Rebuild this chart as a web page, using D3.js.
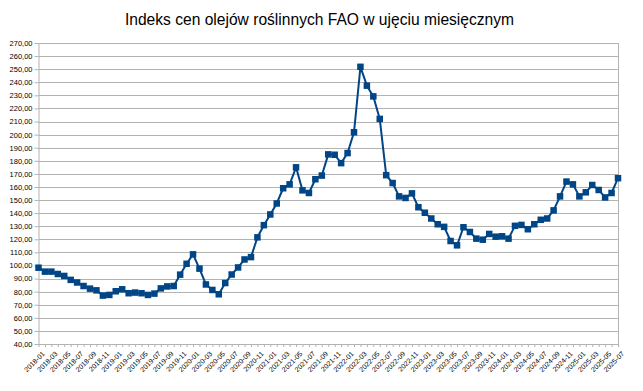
<!DOCTYPE html>
<html>
<head>
<meta charset="utf-8">
<script src="https://cdn.jsdelivr.net/npm/d3@7"></script>
<style>
  body { margin: 0; background: #fff; }
  text { font-family: "Liberation Sans", Arial, sans-serif; }
</style>
</head>
<body>
<div id="chart-container"></div>
<script>
// chart title
const title = "Indeks cen olejów roślinnych FAO w ujęciu miesięcznym";

// monthly categories 2018-01 .. 2025-07
const years = ["2018", "2019", "2020", "2021", "2022", "2023", "2024", "2025"];

// index values, one row per year
const v2018 = [98.3, 95.3, 95.3, 93.5, 92.0, 89.0, 87.0, 84.3, 82.3, 81.0, 77.0, 77.5];
const v2019 = [80.3, 81.8, 78.8, 79.3, 78.8, 77.5, 78.5, 82.5, 84.0, 84.3, 93.0, 101.3];
const v2020 = [108.5, 97.6, 85.5, 81.3, 78.0, 86.6, 93.1, 98.5, 104.6, 106.4, 121.5, 130.8];
const v2021 = [139.0, 147.4, 159.0, 162.0, 175.0, 157.4, 155.4, 165.9, 168.7, 184.9, 184.6, 178.2];
const v2022 = [185.9, 201.8, 251.8, 237.4, 229.2, 212.0, 169.0, 163.0, 152.8, 151.6, 155.1, 144.5];
const v2023 = [140.3, 135.9, 131.5, 129.5, 118.7, 115.4, 129.2, 125.6, 120.5, 119.7, 124.1, 122.0];
const v2024 = [122.3, 120.5, 130.3, 131.0, 127.7, 131.5, 134.9, 135.9, 142.1, 152.8, 164.1, 162.0];
const v2025 = [152.8, 155.9, 161.5, 157.7, 152.0, 155.4, 166.7];

// y axis ticks
const yTicks = d3.range(40, 271, 10);

const values = [].concat(v2018, v2019, v2020, v2021, v2022, v2023, v2024, v2025);
const months = [];
years.forEach(y => {
    for (let m = 1; m <= 12; m++) months.push(`${y}-${String(m).padStart(2, "0")}`);
});
const data = values.map((v, i) => ({ month: months[i], value: v }));

// dimensions
const W = 643, H = 391;
const margin = { top: 43, right: 25, bottom: 47, left: 38.5 };
const width = W - margin.left - margin.right;
const height = H - margin.top - margin.bottom;

const svg = d3.select("#chart-container")
    .append("svg")
    .attr("width", W)
    .attr("height", H);

svg.append("text")
    .attr("x", 319.5)
    .attr("y", 25)
    .attr("text-anchor", "middle")
    .style("font-size", "15.6px")
    .style("fill", "#000")
    .text(title);

const g = svg.append("g")
    .attr("transform", `translate(${margin.left},${margin.top})`);

const x = d3.scalePoint()
    .domain(data.map(d => d.month))
    .range([0, width]);

const y = d3.scaleLinear()
    .domain([40, 270])
    .range([height, 0]);

// horizontal gridlines
g.selectAll(".yGrid")
    .data(yTicks)
    .join("line")
    .attr("x1", 0)
    .attr("x2", width)
    .attr("y1", d => Math.round(y(d)) + 0.5)
    .attr("y2", d => Math.round(y(d)) + 0.5)
    .attr("stroke", "#b3b3b3")
    .attr("stroke-width", 1);

// right border
g.append("line")
    .attr("x1", width + 0.5).attr("x2", width + 0.5)
    .attr("y1", 0).attr("y2", height)
    .attr("stroke", "#b3b3b3");

// y axis
g.append("g")
    .call(d3.axisLeft(y)
        .tickValues(yTicks)
        .tickSize(4)
        .tickPadding(2)
        .tickFormat(d => d3.format(".2f")(d).replace(".", ",")))
    .call(ax => ax.selectAll("line, path").attr("stroke", "#b3b3b3"))
    .call(ax => ax.select(".domain").attr("d", `M0.5,0V${height}`))
    .selectAll("text")
    .style("font-size", "7.5px")
    .style("font-family", "Liberation Sans, Arial, sans-serif")
    .attr("fill", "#000");

// x axis, a tick every month, label every second month
g.append("g")
    .attr("transform", `translate(0,${height})`)
    .call(d3.axisBottom(x)
        .tickSize(3)
        .tickFormat((d, i) => i % 2 === 0 ? d : ""))
    .call(ax => ax.selectAll("line, path").attr("stroke", "#b3b3b3"))
    .call(ax => ax.select(".domain").attr("d", `M0,0.5H${width}`))
    .selectAll("text")
    .style("font-size", "7px")
    .style("font-family", "Liberation Sans, Arial, sans-serif")
    .attr("fill", "#000")
    .attr("text-anchor", "end")
    .attr("dx", "0")
    .attr("dy", "0")
    .attr("transform", "translate(2,6) rotate(-45)");

// the line
const line = d3.line()
    .x(d => x(d.month))
    .y(d => y(d.value));

g.append("path")
    .datum(data)
    .attr("fill", "none")
    .attr("stroke", "#004586")
    .attr("stroke-width", 2)
    .attr("stroke-linejoin", "round")
    .attr("d", line);

// square markers
const ms = 6.5;
g.selectAll(".pt")
    .data(data)
    .join("rect")
    .attr("x", d => x(d.month) - ms / 2)
    .attr("y", d => y(d.value) - ms / 2)
    .attr("width", ms)
    .attr("height", ms)
    .attr("fill", "#004586");
</script>
</body>
</html>
